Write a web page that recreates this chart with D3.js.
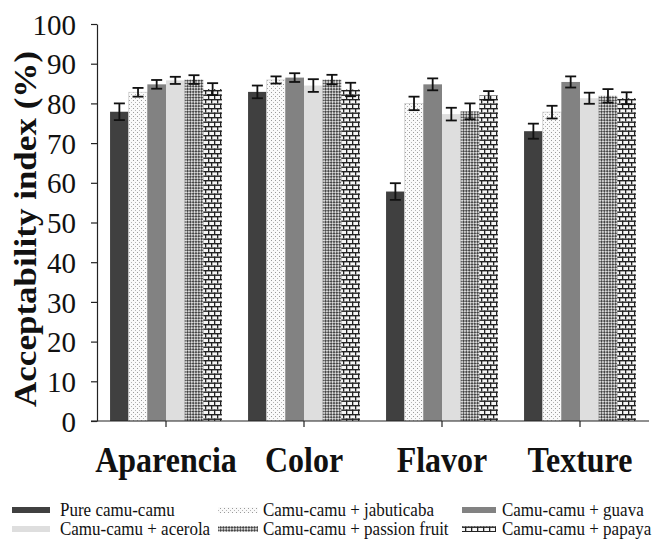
<!DOCTYPE html>
<html>
<head>
<meta charset="utf-8">
<script src="https://cdn.jsdelivr.net/npm/d3@7"></script>
</head>
<body style="margin:0;background:#fff">
<svg id="chart" width="657" height="540"></svg>
<script>
// Sensory acceptability index by attribute and juice blend
const categories = ["Aparencia", "Color", "Flavor", "Texture"];
const seriesNames = [
  "Pure camu-camu",
  "Camu-camu + jabuticaba",
  "Camu-camu + guava",
  "Camu-camu + acerola",
  "Camu-camu + passion fruit",
  "Camu-camu + papaya"
];
const pureValues       = [77.9, 82.9, 57.8, 73.0];
const jabuticabaValues = [82.8, 85.9, 80.0, 77.8];
const guavaValues      = [84.8, 86.5, 84.8, 85.4];
const acerolaValues    = [85.8, 84.5, 77.3, 81.3];
const passionValues    = [86.0, 86.0, 78.0, 81.9];
const papayaValues     = [83.6, 83.5, 82.0, 81.3];

const pureErrors       = [2.1, 1.6, 2.1, 1.9];
const jabuticabaErrors = [1.1, 0.9, 1.7, 1.6];
const guavaErrors      = [1.1, 1.1, 1.5, 1.4];
const acerolaErrors    = [0.9, 1.6, 1.6, 1.4];
const passionErrors    = [1.1, 1.2, 2.0, 1.7];
const papayaErrors     = [1.5, 1.7, 1.1, 1.5];

const yTicks = [0, 10, 20, 30, 40, 50, 60, 70, 80, 90, 100];

const seriesValues = [pureValues, jabuticabaValues, guavaValues, acerolaValues, passionValues, papayaValues];
const seriesErrors = [pureErrors, jabuticabaErrors, guavaErrors, acerolaErrors, passionErrors, papayaErrors];
const fills = ["#404040", "url(#dots)", "#828282", "#dedede", "url(#checks)", "url(#bricks)"];

const FONT = "Liberation Serif";

const svg = d3.select("#chart");
const defs = svg.append("defs");

// dotted fill
const dots = defs.append("pattern").attr("id", "dots").attr("patternUnits", "userSpaceOnUse")
  .attr("width", 4).attr("height", 4);
dots.append("rect").attr("width", 4).attr("height", 4).attr("fill", "#fafafa");
dots.append("rect").attr("x", 0).attr("y", 0).attr("width", 1).attr("height", 1).attr("fill", "#9a9a9a");
dots.append("rect").attr("x", 2).attr("y", 2).attr("width", 1).attr("height", 1).attr("fill", "#b5b5b5");

// diagonal checker fill
const checks = defs.append("pattern").attr("id", "checks").attr("patternUnits", "userSpaceOnUse")
  .attr("width", 4).attr("height", 4).attr("patternTransform", "rotate(45)");
checks.append("rect").attr("width", 4).attr("height", 4).attr("fill", "#dcdcdc");
checks.append("rect").attr("x", 0).attr("y", 0).attr("width", 2).attr("height", 2).attr("fill", "#454545");
checks.append("rect").attr("x", 2).attr("y", 2).attr("width", 2).attr("height", 2).attr("fill", "#454545");

// brick fill
const bricks = defs.append("pattern").attr("id", "bricks").attr("patternUnits", "userSpaceOnUse")
  .attr("width", 12).attr("height", 9);
bricks.append("rect").attr("width", 12).attr("height", 9).attr("fill", "#f6f6f6");
bricks.append("rect").attr("x", 0).attr("y", 0).attr("width", 12).attr("height", 1.4).attr("fill", "#222");
bricks.append("rect").attr("x", 0).attr("y", 4.5).attr("width", 12).attr("height", 1.4).attr("fill", "#222");
bricks.append("rect").attr("x", 0).attr("y", 0).attr("width", 1.3).attr("height", 4.5).attr("fill", "#222");
bricks.append("rect").attr("x", 6).attr("y", 0).attr("width", 1.3).attr("height", 4.5).attr("fill", "#222");
bricks.append("rect").attr("x", 3).attr("y", 4.5).attr("width", 1.3).attr("height", 4.5).attr("fill", "#222");
bricks.append("rect").attr("x", 9).attr("y", 4.5).attr("width", 1.3).attr("height", 4.5).attr("fill", "#222");

const plot = { left: 97, right: 649, top: 24, bottom: 421 };

const x = d3.scaleBand().domain(categories).range([plot.left, plot.right]).paddingInner(0).paddingOuter(0);
const xs = d3.scaleBand().domain(d3.range(seriesNames.length)).range([0, x.bandwidth()])
  .paddingInner(0).paddingOuter(0.7);
const y = d3.scaleLinear().domain([0, 100]).range([plot.bottom, plot.top]);

// bars
const groups = svg.append("g").selectAll("g").data(categories).join("g")
  .attr("transform", d => `translate(${x(d)},0)`);

seriesNames.forEach((name, si) => {
  groups.append("rect")
    .attr("x", xs(si))
    .attr("width", xs.bandwidth())
    .attr("y", (d, ci) => y(seriesValues[si][ci]))
    .attr("height", (d, ci) => y(0) - y(seriesValues[si][ci]))
    .attr("fill", fills[si])
    .attr("stroke", si === 1 ? "#cfcfcf" : "none")
    .attr("stroke-width", 0.8);
});

// error bars
seriesNames.forEach((name, si) => {
  const eb = groups.append("g").attr("stroke", "#111").attr("stroke-width", 1.8);
  const cx = xs(si) + xs.bandwidth() / 2;
  eb.append("line").attr("x1", cx).attr("x2", cx)
    .attr("y1", (d, ci) => y(seriesValues[si][ci] + seriesErrors[si][ci]))
    .attr("y2", (d, ci) => y(seriesValues[si][ci] - seriesErrors[si][ci]));
  eb.append("line").attr("x1", cx - 5.5).attr("x2", cx + 5.5)
    .attr("y1", (d, ci) => y(seriesValues[si][ci] + seriesErrors[si][ci]))
    .attr("y2", (d, ci) => y(seriesValues[si][ci] + seriesErrors[si][ci]));
  eb.append("line").attr("x1", cx - 5.5).attr("x2", cx + 5.5)
    .attr("y1", (d, ci) => y(seriesValues[si][ci] - seriesErrors[si][ci]))
    .attr("y2", (d, ci) => y(seriesValues[si][ci] - seriesErrors[si][ci]));
});

// y axis
const yAxis = svg.append("g").attr("transform", `translate(${plot.left},0)`)
  .call(d3.axisLeft(y).tickValues(yTicks).tickSize(6).tickSizeOuter(0).tickPadding(15));
yAxis.attr("font-family", FONT);
yAxis.select(".domain").attr("stroke", "#222").attr("stroke-width", 1.2);
yAxis.selectAll(".tick line").attr("stroke", "#222").attr("stroke-width", 1.2);
yAxis.selectAll(".tick text")
  .style("font-family", FONT)
  .attr("font-size", 29)
  .attr("fill", "#111")
  .attr("dy", "0.35em");

// x axis: baseline with ticks at category centres
const xAxis = svg.append("g").attr("transform", `translate(0,${plot.bottom})`);
xAxis.append("line").attr("x1", plot.left - 6).attr("x2", plot.right)
  .attr("stroke", "#222").attr("stroke-width", 1.2);
xAxis.selectAll("line.t").data(categories).join("line").attr("class", "t")
  .attr("x1", d => x(d) + x.bandwidth() / 2).attr("x2", d => x(d) + x.bandwidth() / 2)
  .attr("y1", 0).attr("y2", 6).attr("stroke", "#222").attr("stroke-width", 1.2);
xAxis.selectAll("text").data(categories).join("text")
  .attr("transform", d => `translate(${x(d) + x.bandwidth() / 2},51) scale(1,1.12)`)
  .attr("text-anchor", "middle")
  .style("font-family", FONT)
  .attr("font-weight", "bold")
  .attr("font-size", 32)
  .attr("fill", "#111")
  .text(d => d);

// y axis title
svg.append("text")
  .attr("transform", "translate(36,229) scale(1,1.13) rotate(-90)")
  .attr("text-anchor", "middle")
  .style("font-family", FONT)
  .attr("font-weight", "bold")
  .attr("font-size", 31)
  .attr("fill", "#111")
  .text("Acceptability index (%)");

// legend
const legendCols = [
  { sx: 12, sw: 38, tx: 60 },
  { sx: 218, sw: 40, tx: 263 },
  { sx: 462, sw: 34, tx: 502 }
];
const legendRows = [510, 529];
seriesNames.forEach((name, si) => {
  const col = legendCols[si % 3];
  const row = legendRows[Math.floor(si / 3)];
  const g = svg.append("g");
  g.append("rect").attr("x", col.sx).attr("y", row - 3).attr("width", col.sw).attr("height", 6)
    .attr("fill", fills[si]);
  g.append("text").attr("transform", `translate(${col.tx},${row + 6}) scale(1,1.1)`)
    .style("font-family", FONT)
    .attr("font-size", 17)
    .attr("fill", "#111")
    .text(name);
});
</script>
</body>
</html>
